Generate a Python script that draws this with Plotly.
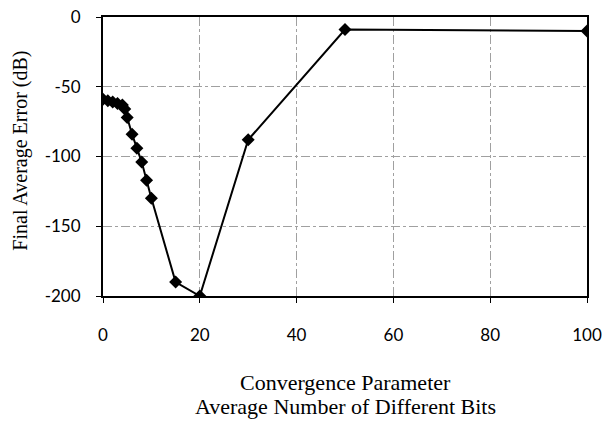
import plotly.graph_objects as go

bits = [0, 1, 2, 3, 4, 4.5, 5, 6, 7, 8, 9, 10, 15, 20, 30, 50, 100]
error_db = [-59, -60, -61, -62, -63, -66, -72, -84, -94, -104, -117, -130, -190, -200, -88, -9, -10]
x_ticks = [0, 20, 40, 60, 80, 100]
y_ticks = [0, -50, -100, -150, -200]

fig = go.Figure()
fig.add_trace(go.Scatter(
    x=bits, y=error_db, mode="lines+markers",
    line=dict(color="black", width=2),
    marker=dict(symbol="diamond", size=10, color="black"),
    showlegend=False,
))

grid = dict(showgrid=True, gridcolor="#a0a0a0", gridwidth=1, griddash="dashdot",
            showline=True, linecolor="black", linewidth=2, mirror=True,
            ticks="outside", ticklen=5, tickcolor="black", zeroline=False,
            automargin=False)
tick_font = dict(family="Lato, sans-serif", size=17, color="black")
title_font_x = dict(family="Liberation Serif, serif", size=22, color="black")
title_font_y = dict(family="Liberation Serif, serif", size=20, color="black")

fig.update_xaxes(range=[0, 100], tickvals=x_ticks, ticktext=[str(v) for v in x_ticks],
                 ticklabelstandoff=18, tickfont=tick_font, **grid)
fig.update_yaxes(range=[-200, 0], tickvals=y_ticks, ticktext=[str(v) for v in y_ticks],
                 ticklabelstandoff=12, tickfont=tick_font, **grid)

fig.add_annotation(text="Final Average Error (dB)", xref="paper", yref="paper",
                   x=-0.17, xanchor="center", y=0.52, yanchor="middle", textangle=-90,
                   showarrow=False, font=title_font_y)
fig.add_annotation(text="Convergence Parameter", xref="paper", yref="paper",
                   x=0.5, y=-0.31, yanchor="middle", showarrow=False, font=title_font_x)
fig.add_annotation(text="Average Number of Different Bits", xref="paper", yref="paper",
                   x=0.5, y=-0.395, yanchor="middle", showarrow=False, font=title_font_x)

fig.update_layout(
    width=609, height=421,
    margin=dict(l=103, r=22, t=17, b=125),
    plot_bgcolor="white", paper_bgcolor="white",
)
fig.write_html("out.html")
